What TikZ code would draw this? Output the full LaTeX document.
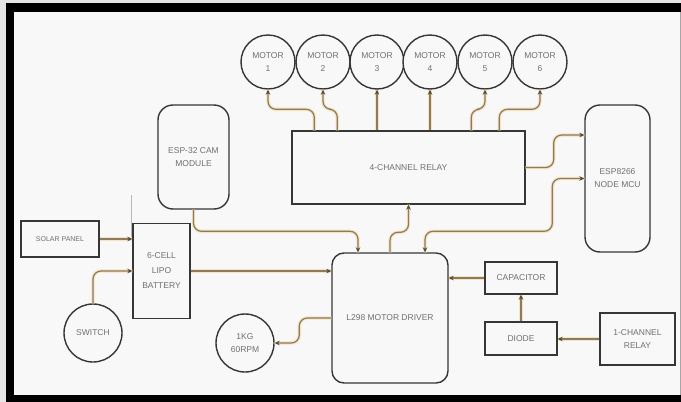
\documentclass[tikz,border=0pt]{standalone}
\usepackage{fontspec}
\setmainfont{Liberation Sans}
\usetikzlibrary{arrows.meta,calc}
\definecolor{boxline}{HTML}{363636}
\definecolor{txt}{HTML}{707070}
\definecolor{wire}{HTML}{8E7A5E}
\definecolor{halo}{HTML}{F5E4C2}
\definecolor{tipc}{HTML}{54483A}
\definecolor{bg}{HTML}{F8F8F8}
\definecolor{outer}{HTML}{E6E6E6}
\begin{document}
\begin{tikzpicture}[x=1pt,y=-1pt,
  lbl/.style={font=\fontsize{8.5}{13}\selectfont, text=txt, align=center, inner sep=0pt},
  blk/.style={lbl, draw=boxline, line width=1.4pt, fill=bg, rectangle},
  rblk/.style={blk, rounded corners=15pt},
  cblk/.style={lbl, draw=boxline, line width=1.4pt, fill=bg, circle},
  wire/.style={draw=wire, line width=1.2pt, rounded corners=8pt,
    preaction={draw=halo, line width=3.4pt, -}},
  tip/.style={-{Stealth[length=5pt,width=4.5pt,color=tipc]}},
  dtip/.style={{Stealth[length=5pt,width=4.5pt,color=tipc]}-{Stealth[length=5pt,width=4.5pt,color=tipc]}}
]
\useasboundingbox (0,0) rectangle (681,402);
\fill[outer] (0,0) rectangle (681,402);
\fill[bg] (14,12) rectangle (680,395);
\fill[black] (6,3) rectangle (681,12);
\fill[black] (6,3) rectangle (14,402);
\fill[black] (6,395) rectangle (681,402);
\draw[gray!70, line width=0.6pt] (680,12) -- (680,395);

% motors
\foreach \i/\x in {1/268,2/323,3/377,4/430,5/485,6/540}{
  \node[cblk, minimum size=54pt] (m\i) at (\x,62) {MOTOR\\\i};
}
\node[blk, minimum width=233pt, minimum height=73pt] (relay) at (408.5,167.5) {4-CHANNEL RELAY};
\node[rblk, minimum width=71pt, minimum height=104pt] (esp32) at (193.5,157) {ESP-32 CAM\\MODULE};
\node[rblk, minimum width=65pt, minimum height=147pt] (esp8266) at (617.5,178.5) {ESP8266\\NODE MCU};
\node[blk, rounded corners=12pt, minimum width=116pt, minimum height=130pt] (l298) at (390,318) {L298 MOTOR DRIVER};
\node[blk, minimum width=78pt, minimum height=36pt, font=\fontsize{7}{9}\selectfont] (solar) at (60,239) {SOLAR PANEL};
\node[blk, minimum width=57pt, minimum height=95pt, font=\fontsize{8.5}{15}\selectfont] (batt) at (161.5,271) {6-CELL\\LIPO\\BATTERY};
\node[cblk, minimum size=58pt] (switch) at (93,333) {SWITCH};
\node[cblk, minimum size=58pt] (kg) at (245,343) {1KG\\60RPM};
\node[blk, minimum width=72pt, minimum height=32pt] (cap) at (521,278) {CAPACITOR};
\node[blk, minimum width=72pt, minimum height=33pt] (diode) at (521,338.5) {DIODE};
\node[blk, minimum width=75pt, minimum height=52pt] (relay1) at (637.5,339) {1-CHANNEL\\RELAY};

% faint mark above battery
\draw[gray!55, line width=0.5pt] (131,195) -- (131,238);

% relay to motors
\draw[wire, tip] ([xshift=23pt]relay.north west) -- ++(0,-21) -| (m1.south);
\draw[wire, tip] ([xshift=46pt]relay.north west) -- ++(0,-21) -| (m2.south);
\draw[wire, tip] (m3.south |- relay.north) -- (m3.south);
\draw[wire, tip] (m4.south |- relay.north) -- (m4.south);
\draw[wire, tip] ([xshift=180pt]relay.north west) -- ++(0,-21) -| (m5.south);
\draw[wire, tip] ([xshift=208pt]relay.north west) -- ++(0,-21) -| (m6.south);

% relay to ESP8266
\draw[wire, tip] (relay.east) -- ++(28,0) |- ([yshift=43.5pt]esp8266.west);
% ESP8266 <-> L298
\draw[wire, dtip] (esp8266.west) -- ++(-32,0) |- ($([xshift=35pt]l298.north)+(0,-21)$) -- ([xshift=35pt]l298.north);
% ESP32 to L298
\draw[wire, tip] (esp32.south) |- ($([xshift=-32pt]l298.north)+(0,-21)$) -- ([xshift=-32pt]l298.north);
% L298 to relay
\draw[wire, tip] (l298.north) -- ++(0,-20) -| (relay.south);

% power side
\draw[wire, tip] (solar.east) -- (solar.east -| batt.west);
\draw[wire, tip] (switch.north) |- (batt.west);
\draw[wire, tip] (batt.east) -- (batt.east -| l298.west);
\draw[wire, tip] (l298.west) -- ++(-32,0) |- (kg.east);

% right side
\draw[wire, tip] (cap.west) -- (cap.west -| l298.east);
\draw[wire, tip] (diode.north) -- (cap.south);
\draw[wire, tip] (relay1.west) -- (relay1.west -| diode.east);
\end{tikzpicture}
\end{document}
